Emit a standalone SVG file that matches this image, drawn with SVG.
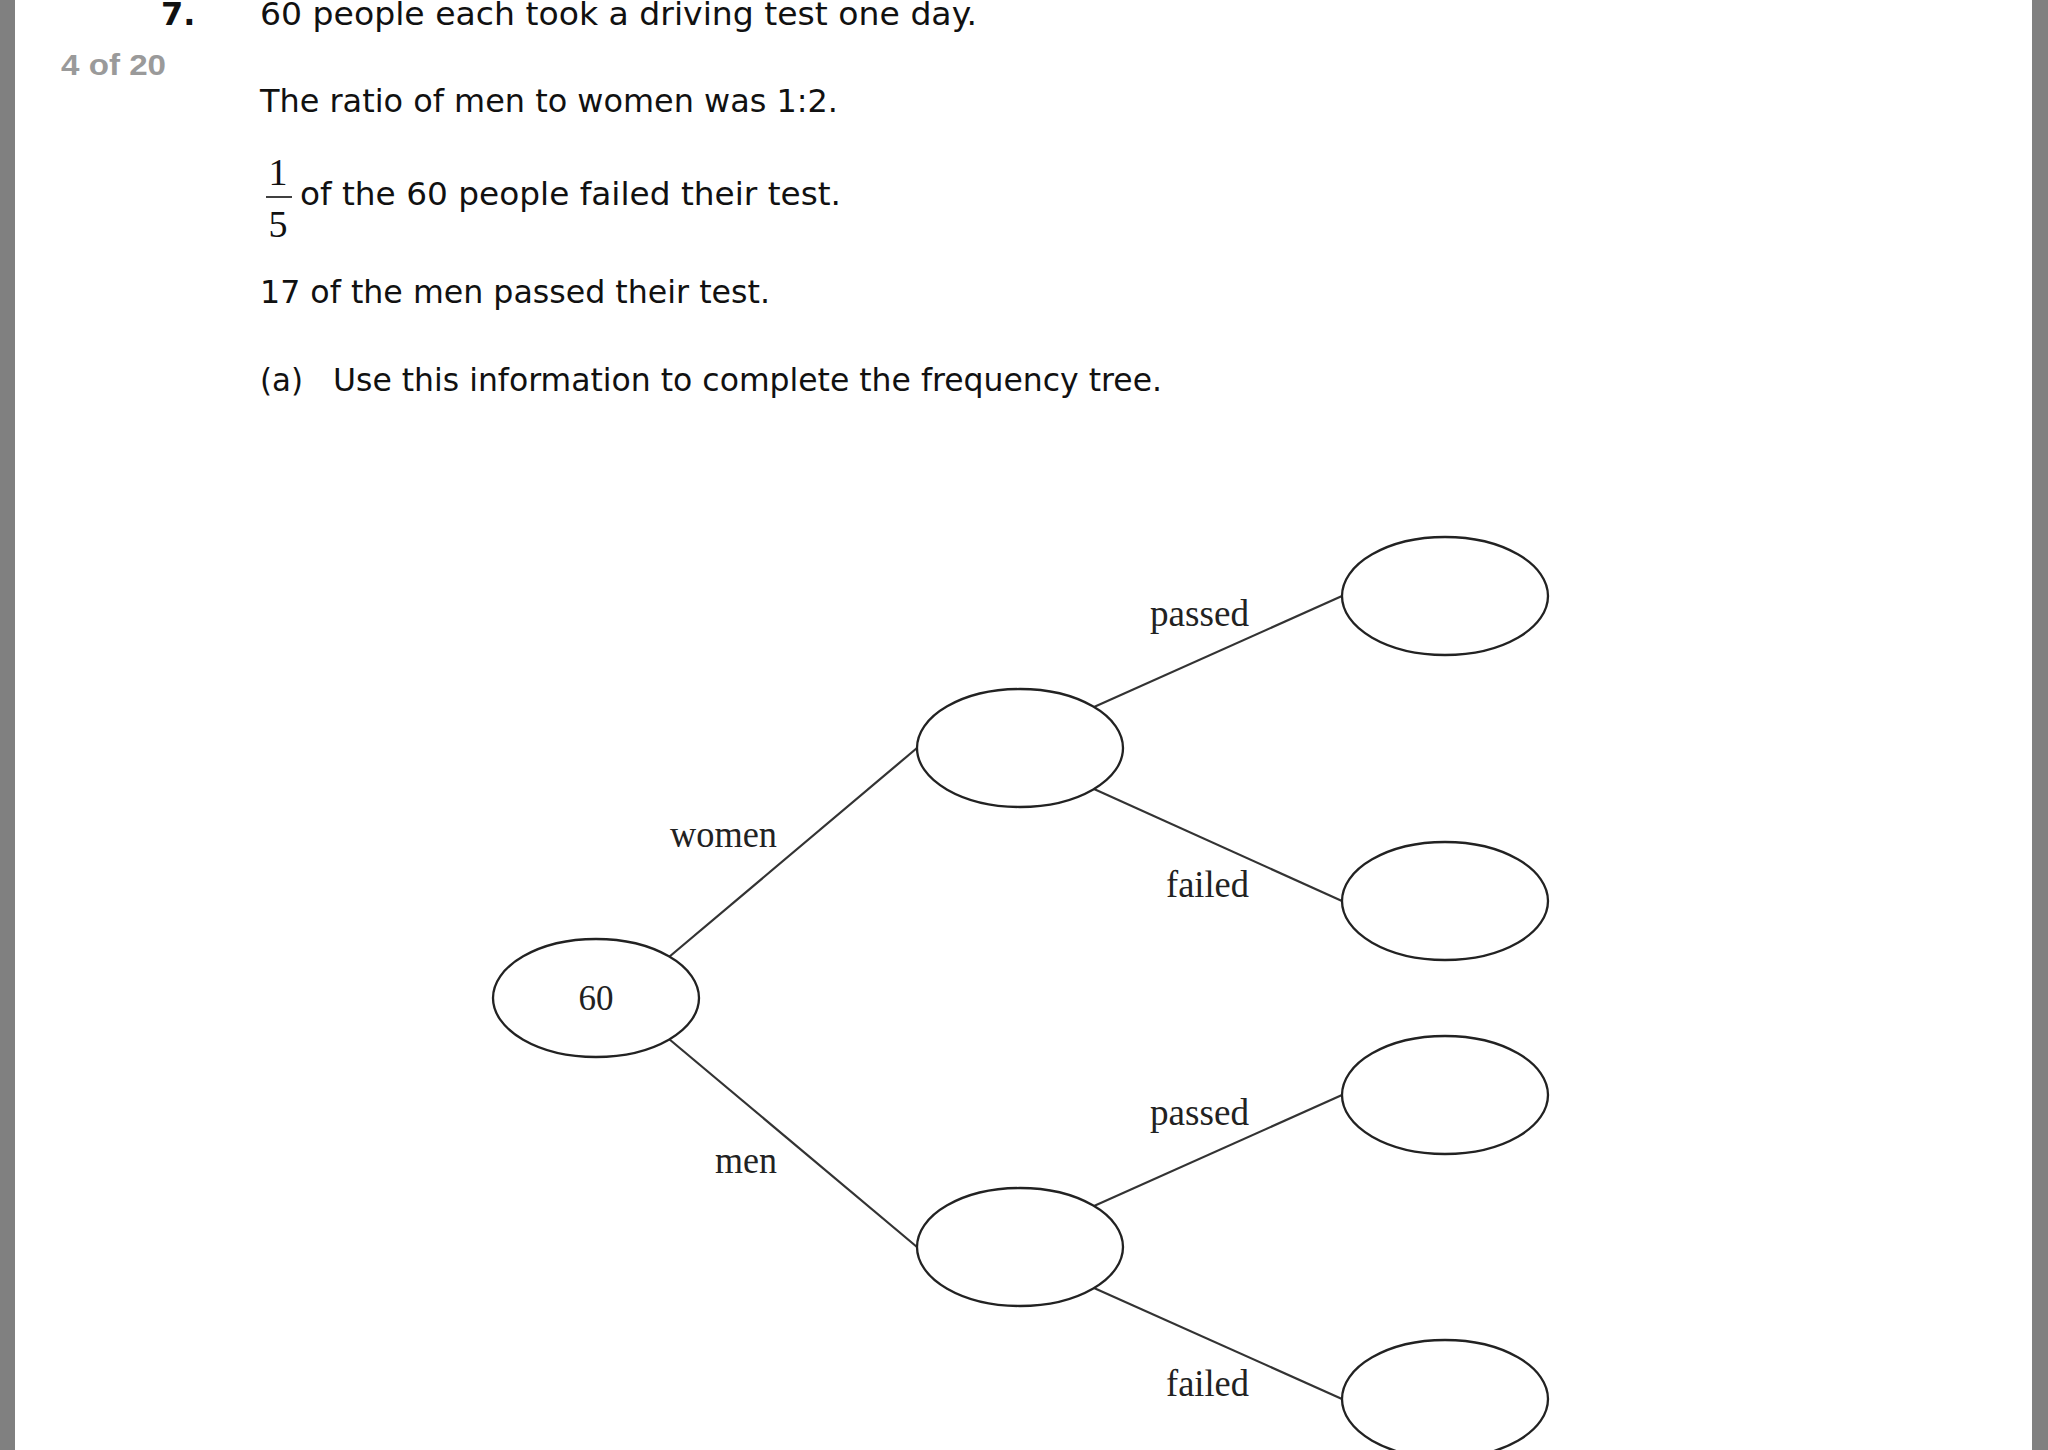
<svg xmlns="http://www.w3.org/2000/svg" width="2048" height="1450" viewBox="0 0 2048 1450">
  <style>
    .q { font-family: "DejaVu Sans", "Liberation Sans", sans-serif; font-size: 32px; fill: #111; }
    .lbl { font-family: "Liberation Serif", "Times New Roman", serif; font-size: 38px; fill: #222; }
    .node ellipse { fill: #fff; stroke: #222; stroke-width: 2.3; }
    .edge { stroke: #333; stroke-width: 2.2; fill: none; }
  </style>
  <rect x="0" y="0" width="2048" height="1450" fill="#fff"/>
  <rect x="0" y="0" width="15" height="1450" fill="#808080"/>
  <rect x="2032" y="0" width="16" height="1450" fill="#808080"/>

  <!-- question text -->
  <text x="161" y="25" font-family="DejaVu Sans, sans-serif" font-weight="bold" font-size="32" fill="#111">7.</text>
  <text class="q" x="260" y="25" textLength="717" lengthAdjust="spacingAndGlyphs">60 people each took a driving test one day.</text>
  <text x="61" y="75" font-family="Liberation Sans, Arial, sans-serif" font-weight="bold" font-size="30" fill="#9a9a9a" textLength="105" lengthAdjust="spacingAndGlyphs">4 of 20</text>
  <text class="q" x="260" y="112" textLength="578" lengthAdjust="spacingAndGlyphs">The ratio of men to women was 1:2.</text>
  <text x="278" y="185" text-anchor="middle" font-family="Liberation Serif, serif" font-size="38" fill="#111">1</text>
  <line x1="266" y1="197" x2="292" y2="197" stroke="#111" stroke-width="1.6"/>
  <text x="278" y="237" text-anchor="middle" font-family="Liberation Serif, serif" font-size="38" fill="#111">5</text>
  <text class="q" x="300" y="205" textLength="541" lengthAdjust="spacingAndGlyphs">of the 60 people failed their test.</text>
  <text class="q" x="260" y="303" textLength="510" lengthAdjust="spacingAndGlyphs">17 of the men passed their test.</text>
  <text class="q" x="260" y="391" textLength="43" lengthAdjust="spacingAndGlyphs">(a)</text>
  <text class="q" x="333" y="391" textLength="829" lengthAdjust="spacingAndGlyphs">Use this information to complete the frequency tree.</text>

  <!-- connectors -->
  <g id="connectors">
    <line class="edge" x1="669" y1="957" x2="917" y2="748"/>
    <line class="edge" x1="669" y1="1039" x2="917" y2="1247"/>
    <line class="edge" x1="1094" y1="707" x2="1342" y2="596"/>
    <line class="edge" x1="1094" y1="789" x2="1342" y2="901"/>
    <line class="edge" x1="1094" y1="1206" x2="1342" y2="1095"/>
    <line class="edge" x1="1094" y1="1288" x2="1342" y2="1399"/>
    <text class="lbl" x="670" y="847" textLength="107" lengthAdjust="spacingAndGlyphs">women</text>
    <text class="lbl" x="715" y="1173" textLength="62" lengthAdjust="spacingAndGlyphs">men</text>
    <text class="lbl" x="1150" y="626" textLength="99" lengthAdjust="spacingAndGlyphs">passed</text>
    <text class="lbl" x="1166" y="897" textLength="83" lengthAdjust="spacingAndGlyphs">failed</text>
    <text class="lbl" x="1150" y="1125" textLength="99" lengthAdjust="spacingAndGlyphs">passed</text>
    <text class="lbl" x="1166" y="1396" textLength="83" lengthAdjust="spacingAndGlyphs">failed</text>
  </g>

  <!-- nodes -->
  <g id="node-root" class="node">
    <ellipse cx="596" cy="998" rx="103" ry="59"/>
    <text x="596" y="1010" text-anchor="middle" font-family="Liberation Serif, serif" font-size="35" fill="#222">60</text>
  </g>
  <g id="node-women" class="node"><ellipse cx="1020" cy="748" rx="103" ry="59"/></g>
  <g id="node-men" class="node"><ellipse cx="1020" cy="1247" rx="103" ry="59"/></g>
  <g id="node-women-passed" class="node"><ellipse cx="1445" cy="596" rx="103" ry="59"/></g>
  <g id="node-women-failed" class="node"><ellipse cx="1445" cy="901" rx="103" ry="59"/></g>
  <g id="node-men-passed" class="node"><ellipse cx="1445" cy="1095" rx="103" ry="59"/></g>
  <g id="node-men-failed" class="node"><ellipse cx="1445" cy="1399" rx="103" ry="59"/></g>
</svg>
